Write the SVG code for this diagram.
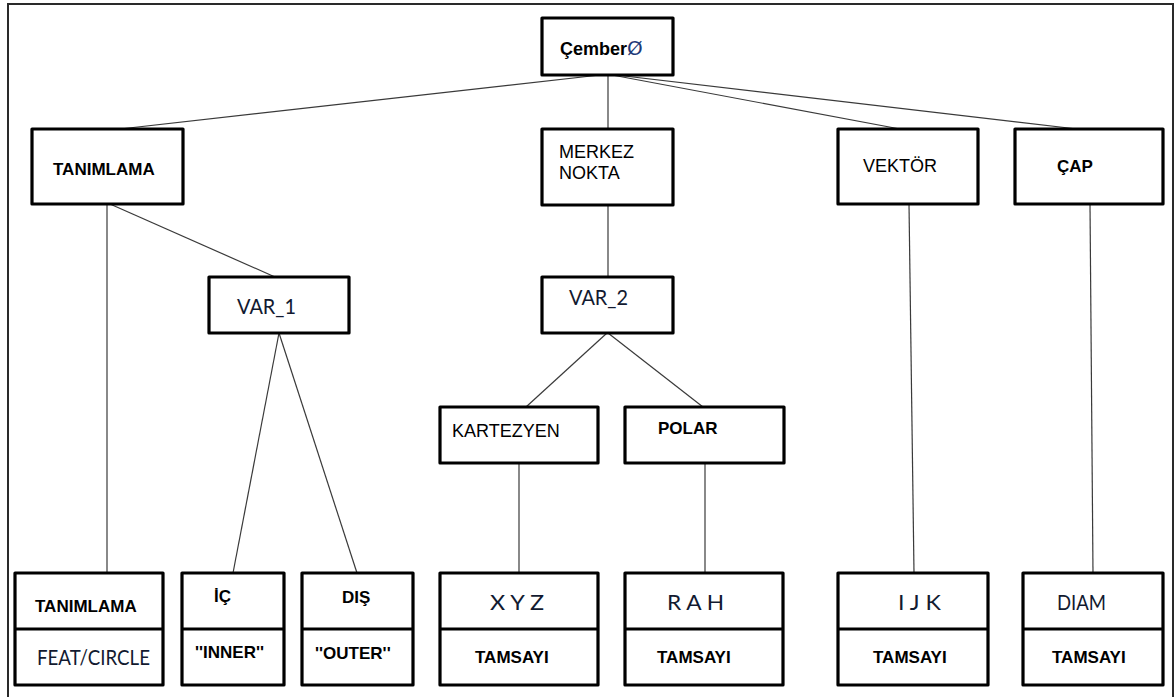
<svg xmlns="http://www.w3.org/2000/svg" width="1175" height="697" viewBox="0 0 1175 697">
  <style>
    .frame { fill: none; stroke: #2a2a2a; stroke-width: 2; }
    .box { fill: #ffffff; stroke: #000000; stroke-width: 3.2; stroke-linejoin: round; }
    .div { stroke: #000000; stroke-width: 3; }
    .edge { fill: none; stroke: #3a3a3a; stroke-width: 1.2; }
    .t { font-family: "Liberation Sans", Arial, sans-serif; font-size: 18px; fill: #000000; }
    .b { font-family: "Liberation Sans", Arial, sans-serif; font-size: 17px; font-weight: bold; fill: #000000; }
    .c { font-family: Lato, "Open Sans", sans-serif; font-size: 21px; fill: #121a30; }
    .big { font-size: 18px; }
    .sym { font-family: "DejaVu Sans", sans-serif; font-size: 20px; font-weight: normal; fill: #1e3a78; }
  </style>

  <rect width="1175" height="697" fill="#ffffff"/>
  <!-- outer frame, open at the bottom -->
  <path class="frame" d="M8,697 V4 H1173 V697"/>

  <g id="connectors">
    <line class="edge" x1="600" y1="75" x2="120" y2="129"/>
    <line class="edge" x1="608" y1="75" x2="608" y2="129"/>
    <line class="edge" x1="612" y1="75" x2="900" y2="129"/>
    <line class="edge" x1="616" y1="75" x2="1077" y2="129"/>
    <line class="edge" x1="107" y1="204" x2="107" y2="573"/>
    <line class="edge" x1="110" y1="204" x2="275" y2="277"/>
    <line class="edge" x1="279" y1="333" x2="233" y2="573"/>
    <line class="edge" x1="279" y1="333" x2="357" y2="573"/>
    <line class="edge" x1="608" y1="205" x2="608" y2="277"/>
    <line class="edge" x1="607" y1="333" x2="526" y2="407"/>
    <line class="edge" x1="608" y1="333" x2="703" y2="407"/>
    <line class="edge" x1="519" y1="463" x2="519" y2="573"/>
    <line class="edge" x1="705" y1="463" x2="705" y2="573"/>
    <line class="edge" x1="909" y1="204" x2="914" y2="573"/>
    <line class="edge" x1="1090" y1="204" x2="1093" y2="573"/>
  </g>

  <g id="cember">
    <rect class="box" x="542" y="18" width="131" height="57"/>
    <text class="b big" x="560" y="55">Çember<tspan class="sym">Ø</tspan></text>
  </g>

  <g id="tanimlama">
    <rect class="box" x="32" y="129" width="151" height="75"/>
    <text class="b" x="53" y="175">TANIMLAMA</text>
  </g>

  <g id="merkez-nokta">
    <rect class="box" x="542" y="129" width="131" height="76"/>
    <text class="t" x="559" y="158">MERKEZ</text>
    <text class="t" x="559" y="179">NOKTA</text>
  </g>

  <g id="vektor">
    <rect class="box" x="838" y="129" width="140" height="75"/>
    <text class="t" x="863" y="172">VEKTÖR</text>
  </g>

  <g id="cap">
    <rect class="box" x="1015" y="129" width="148" height="75"/>
    <text class="b" x="1057" y="172">ÇAP</text>
  </g>

  <g id="var-1">
    <rect class="box" x="209" y="277" width="140" height="56"/>
    <text class="c" x="237" y="314" textLength="59" lengthAdjust="spacingAndGlyphs">VAR_1</text>
  </g>

  <g id="var-2">
    <rect class="box" x="542" y="277" width="131" height="56"/>
    <text class="c" x="569" y="305" textLength="59" lengthAdjust="spacingAndGlyphs">VAR_2</text>
  </g>

  <g id="kartezyen">
    <rect class="box" x="440" y="407" width="158" height="56"/>
    <text class="t" x="452" y="437">KARTEZYEN</text>
  </g>

  <g id="polar">
    <rect class="box" x="625" y="407" width="159" height="56"/>
    <text class="b" x="658" y="434">POLAR</text>
  </g>

  <g id="tanimlama-feat">
    <rect class="box" x="15" y="573" width="148" height="112"/>
    <line class="div" x1="15" y1="629" x2="163" y2="629"/>
    <text class="b" x="35" y="612">TANIMLAMA</text>
    <text class="c" x="37" y="665" textLength="113" lengthAdjust="spacingAndGlyphs">FEAT/CIRCLE</text>
  </g>

  <g id="ic">
    <rect class="box" x="182" y="573" width="102" height="112"/>
    <line class="div" x1="182" y1="629" x2="284" y2="629"/>
    <text class="b" x="214" y="602">İÇ</text>
    <text class="b" x="195" y="658">''INNER''</text>
  </g>

  <g id="dis">
    <rect class="box" x="302" y="573" width="111" height="112"/>
    <line class="div" x1="302" y1="629" x2="413" y2="629"/>
    <text class="b" x="342" y="603">DIŞ</text>
    <text class="b" x="315" y="659">''OUTER''</text>
  </g>

  <g id="xyz">
    <rect class="box" x="440" y="573" width="158" height="112"/>
    <line class="div" x1="440" y1="629" x2="598" y2="629"/>
    <text class="c" x="490" y="610" textLength="54" lengthAdjust="spacingAndGlyphs">X Y Z</text>
    <text class="b" x="475" y="663">TAMSAYI</text>
  </g>

  <g id="rah">
    <rect class="box" x="625" y="573" width="158" height="112"/>
    <line class="div" x1="625" y1="629" x2="783" y2="629"/>
    <text class="c" x="667" y="610" textLength="57" lengthAdjust="spacingAndGlyphs">R  A  H</text>
    <text class="b" x="657" y="663">TAMSAYI</text>
  </g>

  <g id="ijk">
    <rect class="box" x="838" y="573" width="150" height="112"/>
    <line class="div" x1="838" y1="629" x2="988" y2="629"/>
    <text class="c" x="898" y="610" textLength="43" lengthAdjust="spacingAndGlyphs">I  J  K</text>
    <text class="b" x="873" y="663">TAMSAYI</text>
  </g>

  <g id="diam">
    <rect class="box" x="1023" y="573" width="140" height="112"/>
    <line class="div" x1="1023" y1="629" x2="1163" y2="629"/>
    <text class="c" x="1057" y="610" textLength="49" lengthAdjust="spacingAndGlyphs">DIAM</text>
    <text class="b" x="1052" y="663">TAMSAYI</text>
  </g>
</svg>
